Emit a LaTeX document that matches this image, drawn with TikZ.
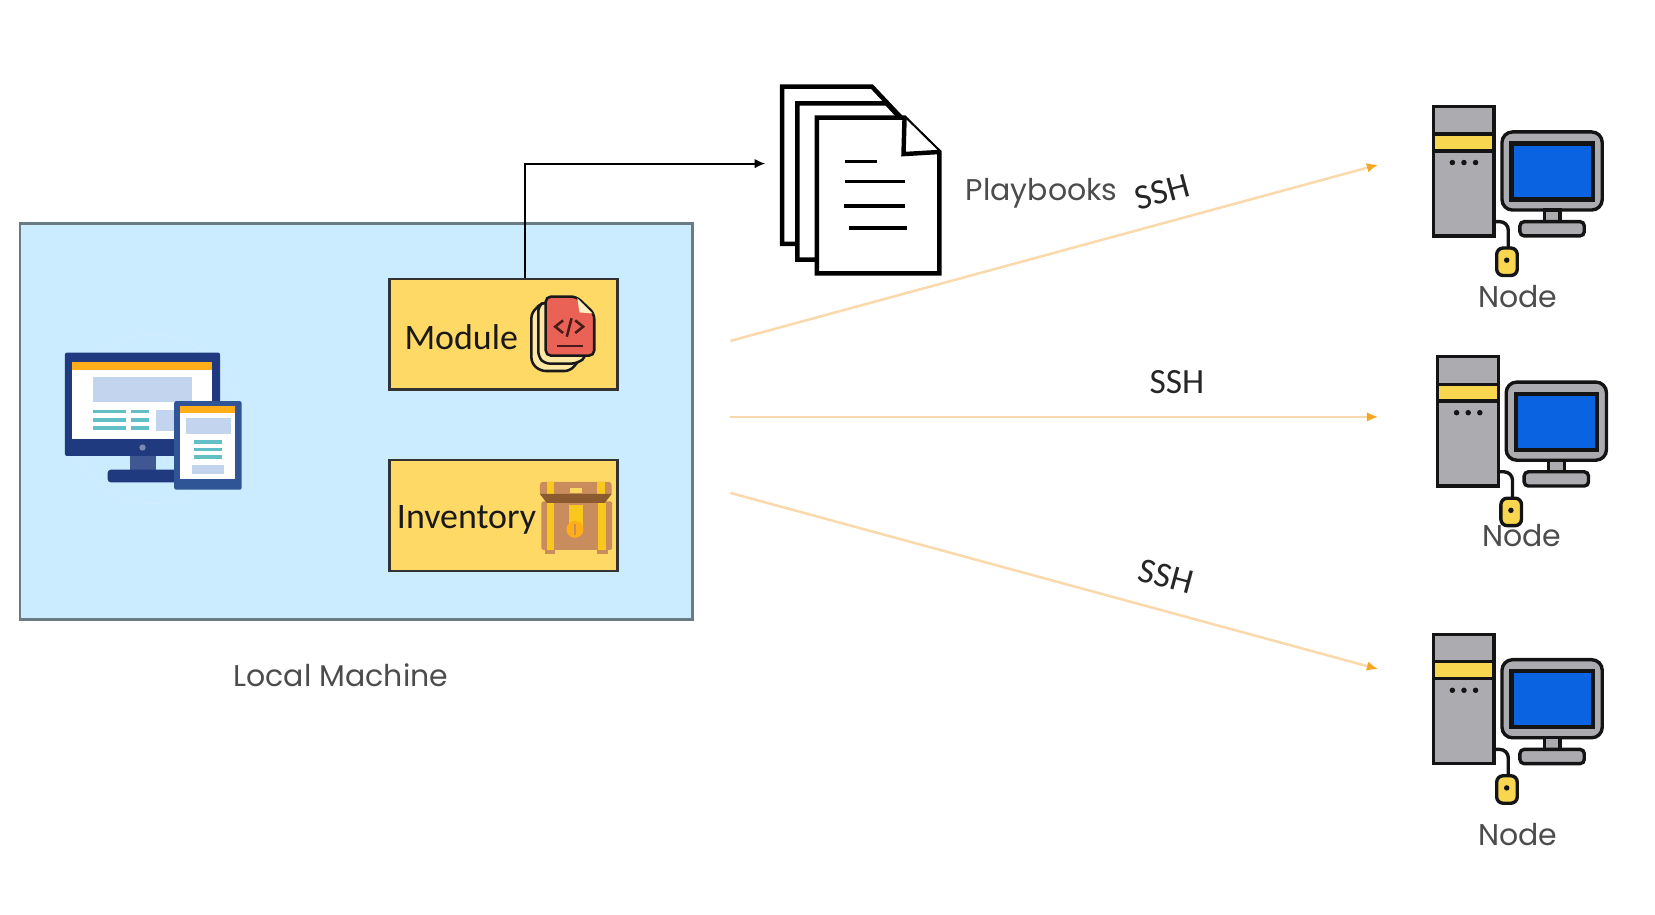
\documentclass[tikz,border=0pt]{standalone}
\usepackage{fontspec}
\setmainfont{Carlito}
\newfontfamily\CaptionF{Poppins}
\usetikzlibrary{arrows.meta}
\definecolor{paleblue}{HTML}{CBEBFF}
\definecolor{boxyellow}{HTML}{FFD966}
\definecolor{navy}{HTML}{1F3A7F}
\definecolor{tabblue}{HTML}{2F5597}
\definecolor{barorange}{HTML}{FFAE1A}
\definecolor{softblue}{HTML}{C3D5EE}
\definecolor{teal1}{HTML}{62BFC6}
\definecolor{sshline}{HTML}{FAD9AC}
\definecolor{sshtip}{HTML}{F5A623}
\definecolor{towergrey}{HTML}{ABABB0}
\definecolor{screenblue}{HTML}{0A63E0}
\definecolor{hostyellow}{HTML}{F8D650}
\definecolor{codered}{HTML}{EA6255}
\definecolor{chest}{HTML}{C98C5C}
\definecolor{chestdark}{HTML}{8C5A30}
\definecolor{strap}{HTML}{F8C81E}
\newcommand{\CaptionT}[1]{{\CaptionF\fontsize{14.2}{16}\selectfont #1}}
% one computer at the right, #1,#2 = top left corner of the tower
\newcommand{\HostIcon}[2]{
	\begin{scope}[shift={(#1,#2)},draw=black!92,line width=1.6pt]
		\draw[fill=towergrey] (0,0) rectangle (57.5,122.5);
		\draw[fill=hostyellow] (0,26) rectangle (57.5,42);
		\foreach \dotx in {18,29,40}
			\fill[black!92] (\dotx,53) circle (1.3pt);
		\draw[fill=towergrey,rounded corners=5pt] (65,24) rectangle (160,98);
		\draw[fill=screenblue,line width=2pt] (74,35) rectangle (151,88);
		\draw[fill=towergrey] (105,98) rectangle (120,109);
		\draw[fill=towergrey,rounded corners=2pt] (82,109) rectangle (143,122.5);
		\draw[rounded corners=4pt] (57.5,109) -- (71,109) -- (71,134);
		\draw[fill=hostyellow,rounded corners=3pt] (60,134) rectangle (79.5,160);
		\fill[black!92] (69.5,145.5) circle (1.3pt);
	\end{scope}
}
\begin{document}
\begin{tikzpicture}[x=0.5pt,y=-0.5pt]
	\tikzstyle{machine} = [draw=black!60!cyan!50!gray, line width=1.2pt, fill=paleblue, minimum width=318.5pt, minimum height=187.5pt, inner sep=0pt]
	\tikzstyle{boxs} = [draw=black!80, line width=1pt, fill=boxyellow, minimum width=108pt, minimum height=52.5pt, inner sep=0pt]
	\tikzstyle{boxtext} = [font=\fontsize{17}{19}\selectfont, text=black!90, inner sep=0pt]
	\tikzstyle{caption} = [text=black!70, inner sep=0pt]
	\tikzstyle{sshtext} = [font=\fontsize{16.8}{19}\selectfont, text=black!85, inner sep=0pt]
	\tikzstyle{line} = [draw,-{Latex[length=5pt,width=4.5pt]},line width=0.9pt]
	\tikzstyle{lineS} = [draw=sshline,line width=1.2pt,-{Latex[length=5.5pt,width=4.5pt,color=sshtip]}]
	\tikzstyle{sheet} = [draw=black,line width=2.1pt,fill=white,line join=miter]
	\tikzstyle{rule} = [black,line width=1.8pt]

	\path[use as bounding box] (0,0) rectangle (1568,866.9);

	\node(LocalMachine)[machine] at (337.5,399.5) {};
	\node(LocalText)[caption] at (323,640) {\CaptionT{Local Machine}};
	\node(Module)[boxs] at (477,316.5) {};
	\node(Inventory)[boxs] at (477,488.5) {};
	\node(ModuleText)[boxtext] at (437,319) {Module};
	\node(InventoryText)[boxtext] at (442,493) {Inventory};

	% desktop and tablet
	\draw[paleblue!88!white,line width=0.5pt] (145,397) circle (80);
	\fill[navy,rounded corners=1pt] (61.5,334) rectangle (208.5,432);
	\fill[navy!85!white] (123,432) rectangle (148,446);
	\fill[navy,rounded corners=1.5pt] (102,445) rectangle (168,457);
	\fill[white] (68,351) rectangle (201,416);
	\fill[barorange] (68,342.5) rectangle (201,351);
	\fill[softblue] (88,357) rectangle (182,381);
	\foreach \rowy in {390,398,405.5} {
		\fill[teal1] (88,\rowy-1.7) rectangle (119,\rowy+1.7);
		\fill[teal1] (124,\rowy-1.7) rectangle (141.5,\rowy+1.7);
	}
	\fill[softblue] (148,388) rectangle (166,408);
	\fill[navy!60!white] (135,424) circle (1.5pt);
	\fill[tabblue,rounded corners=1pt] (165,380) rectangle (229,464);
	\fill[white] (170.5,391.5) rectangle (223,454);
	\fill[barorange] (170.5,384.5) rectangle (223,391.5);
	\fill[softblue] (176,396) rectangle (218.5,411.5);
	\foreach \rowy in {418.5,426,433}
		\fill[teal1] (184,\rowy-1.7) rectangle (210.5,\rowy+1.7);
	\fill[softblue] (181.5,441) rectangle (212,449);

	% code pages on the module box
	\begin{scope}[draw=black!90,line width=1.2pt,rounded corners=2.5pt]
		\draw[fill=boxyellow!60!white] (503.5,296) -- (517,285) -- (550,340) -- (540,351.5) -- (512,351.5) -- (503.5,344) -- cycle;
		\draw[fill=boxyellow!60!white] (510,290) -- (517,285) -- (556,338) -- (546,344.5) -- (516,344.5) -- (510,338) -- cycle;
		\draw[fill=codered] (517,281) -- (546,281) -- (563,297) -- (563,337) -- (517,337) -- cycle;
	\end{scope}
	\fill[boxyellow!40!white] (547,282.5) -- (561.5,297) -- (549,296) -- cycle;
	\begin{scope}[black!70!codered,line width=1.2pt]
		\draw (533.5,303.5) -- (526,309.5) -- (533.5,315.5);
		\draw (545,303.5) -- (552.5,309.5) -- (545,315.5);
		\draw (541.5,301.5) -- (537,319);
		\draw (528,328) -- (552.5,328);
	\end{scope}

	% chest on the inventory box
	\fill[chest,rounded corners=1pt] (513,475) rectangle (580,521);
	\fill[chest,rounded corners=1.5pt] (511.5,456.5) rectangle (579.5,470);
	\fill[strap] (518,457) rectangle (525,469);
	\fill[strap] (566,457) rectangle (573,469);
	\fill[strap!70!white] (540,462.5) rectangle (551,467);
	\fill[chestdark] (511.5,468) -- (579.5,468) -- (573,476.5) -- (518,476.5) -- cycle;
	\fill[strap] (518,477) rectangle (525,521);
	\fill[strap] (567,477) rectangle (574,521);
	\fill[strap] (539.5,478) rectangle (552,505);
	\fill[barorange] (544.7,501.5) circle (4pt);
	\fill[chest] (543.7,496) rectangle (545.7,507);
	\fill[chest] (516,521) rectangle (526,525);
	\fill[chest] (566,521) rectangle (576,525);

	% playbooks
	\draw[sheet] (741,82) -- (826,82) -- (860,118) -- (860,231) -- (741,231) -- cycle;
	\draw[sheet] (755.5,98) -- (840,98) -- (866,126) -- (866,246) -- (755.5,246) -- cycle;
	\draw[sheet] (774,111.5) -- (857,111.5) -- (890,144) -- (890,259) -- (774,259) -- cycle;
	\draw[sheet] (857,111.5) -- (856,146) -- (890,144);
	\draw[rule] (800.5,153) -- (831,153);
	\draw[rule] (801,172) -- (857,172);
	\draw[rule] (800,195) -- (857,195);
	\draw[rule] (804,216) -- (859,216);
	\node(PlaybooksText)[caption] at (987,183) {\CaptionT{Playbooks}};
	\coordinate(PlaybooksIn) at (725,155);

	\draw[line] ([xshift=10pt]Module.north) |- (PlaybooksIn);

	% the three nodes
	\HostIcon{1358}{101}
	\HostIcon{1362}{338}
	\HostIcon{1358}{601}
	\node(NodeOneText)[caption] at (1438,281) {\CaptionT{Node}};
	\node(NodeTwoText)[caption] at (1442,507) {\CaptionT{Node}};
	\node(NodeThreeText)[caption] at (1438,791) {\CaptionT{Node}};

	\coordinate(SshOutA) at (692,323);
	\coordinate(SshOutB) at (692,395);
	\coordinate(SshOutC) at (692,467);
	\coordinate(NodeOneIn) at (1306,156);
	\coordinate(NodeTwoIn) at (1306,395);
	\coordinate(NodeThreeIn) at (1306,634);
	\draw[lineS] (SshOutA) -- (NodeOneIn);
	\draw[lineS] (SshOutB) -- (NodeTwoIn);
	\draw[lineS] (SshOutC) -- (NodeThreeIn);
	\node(SshOne)[sshtext,rotate=15] at (1101,182) {SSH};
	\node(SshTwo)[sshtext] at (1115,362) {SSH};
	\node(SshThree)[sshtext,rotate=-15] at (1105,546) {SSH};
\end{tikzpicture}
\end{document}
